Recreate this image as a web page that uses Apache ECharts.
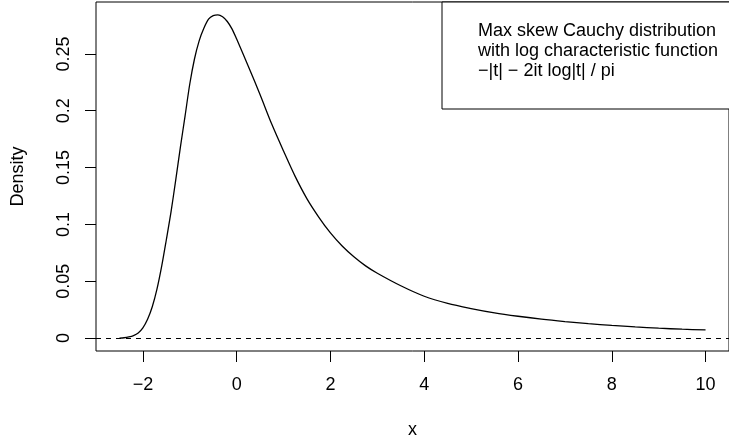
<!DOCTYPE html>
<html>
<head>
<meta charset="utf-8">
<script src="https://cdn.jsdelivr.net/npm/echarts@6/dist/echarts.min.js"></script>
<style>
html,body{margin:0;padding:0;background:#fff;}
#chart{width:729px;height:444px;}
</style>
</head>
<body>
<div id="chart"></div>
<script>
// Values
const xValues = [-2.5, -2.4, -2.3, -2.2, -2.1, -2.0, -1.9, -1.8, -1.7, -1.6, -1.5, -1.4, -1.3, -1.2, -1.1, -1.0, -0.9, -0.8, -0.7, -0.6, -0.5, -0.4, -0.3, -0.2, -0.1, 0.0, 0.25, 0.5, 0.75, 1.0, 1.25, 1.5, 1.75, 2.0, 2.25, 2.5, 2.75, 3.0, 3.5, 4.0, 4.5, 5.0, 5.5, 6.0, 6.5, 7.0, 7.5, 8.0, 8.5, 9.0, 9.5, 10.0];
const densityValues = [0.0000, 0.0003, 0.0010, 0.0022, 0.0045, 0.0090, 0.0165, 0.0275, 0.0430, 0.0630, 0.0865, 0.1110, 0.1390, 0.1680, 0.1955, 0.2235, 0.2455, 0.2615, 0.2725, 0.2805, 0.2836, 0.2843, 0.2826, 0.2785, 0.2720, 0.2630, 0.2390, 0.2140, 0.1880, 0.1645, 0.1420, 0.1225, 0.1065, 0.0925, 0.0810, 0.0715, 0.0635, 0.0570, 0.0460, 0.0368, 0.0305, 0.0260, 0.0222, 0.0192, 0.0166, 0.0145, 0.0127, 0.0112, 0.0099, 0.0087, 0.0078, 0.0072];
const xTicks = [-2, 0, 2, 4, 6, 8, 10];
const yTicks = [0, 0.05, 0.1, 0.15, 0.2, 0.25];
const yTickLabels = ['0', '0.05', '0.1', '0.15', '0.2', '0.25'];
const legendLines = ['Max skew Cauchy distribution', 'with log characteristic function', '\u2212|t| \u2212 2it log|t| / pi'];
const xRange = [-3, 10.5];
const yRange = [-0.01137, 0.29565];

const FONT = '"Liberation Sans", Arial, Helvetica, sans-serif';
const chart = echarts.init(document.getElementById('chart'), null, {renderer: 'canvas'});

const seriesData = xValues.map((x, i) => [x, densityValues[i]]);

chart.setOption({
  animation: false,
  backgroundColor: '#fff',
  grid: {left: 96, top: 2, width: 644, height: 353, show: true, borderColor: '#000', borderWidth: 1, backgroundColor: 'transparent'},
  xAxis: {
    type: 'value', min: xRange[0], max: xRange[1],
    name: 'x', nameLocation: 'middle', nameGap: 70,
    nameTextStyle: {color: '#000', fontSize: 18, fontFamily: FONT},
    axisLine: {show: false, onZero: false},
    splitLine: {show: false},
    axisTick: {show: true, inside: false, length: 11, lineStyle: {color: '#000', width: 1}, customValues: xTicks},
    axisLabel: {color: '#000', fontSize: 18, fontFamily: FONT, margin: 25, customValues: xTicks,
      formatter: v => String(v).replace('-', '\u2212')}
  },
  yAxis: {
    type: 'value', min: yRange[0], max: yRange[1],
    name: 'Density', nameLocation: 'middle', nameGap: 69,
    nameTextStyle: {color: '#000', fontSize: 18, fontFamily: FONT},
    axisLine: {show: false, onZero: false},
    splitLine: {show: false},
    axisTick: {show: true, inside: false, length: 11, lineStyle: {color: '#000', width: 1}, customValues: yTicks},
    axisLabel: {color: '#000', fontSize: 18, fontFamily: FONT, margin: 23, rotate: 90, customValues: yTicks,
      formatter: v => {
        let best = 0;
        yTicks.forEach((t, i) => { if (Math.abs(t - v) < Math.abs(yTicks[best] - v)) best = i; });
        return yTickLabels[best];
      }}
  },
  series: [{
    type: 'line',
    data: seriesData,
    showSymbol: false,
    smooth: 0.3,
    lineStyle: {color: '#000', width: 1.3},
    markLine: {
      silent: true, symbol: ['none', 'none'],
      label: {show: false},
      lineStyle: {color: '#000', width: 1, type: [5, 5]},
      data: [{yAxis: 0}]
    }
  }],
  graphic: [{
    type: 'group',
    z: 100,
    children: [
      {type: 'rect', shape: {x: 442, y: 2, width: 320, height: 107}, style: {fill: '#fff', stroke: '#000', lineWidth: 1}},
      ...legendLines.map((t, i) => ({
        type: 'text', x: 478, y: 31 + i * 20,
        style: {text: t, font: '18px ' + FONT, fill: '#000', verticalAlign: 'middle', align: 'left'}
      }))
    ]
  }]
});
</script>
</body>
</html>
